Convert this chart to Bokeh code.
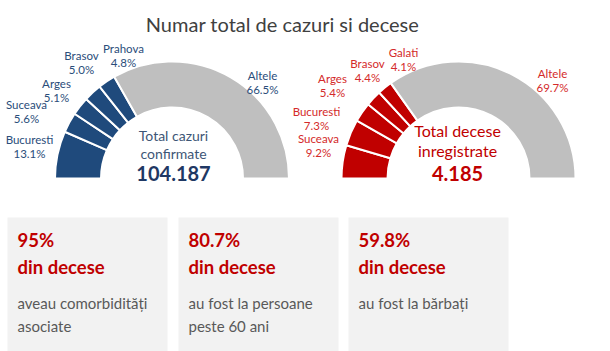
import numpy as np
from bokeh.plotting import figure
from bokeh.models import Range1d
from bokeh.core.properties import value
from bokeh.embed import file_html
from bokeh.resources import INLINE

# ---------------- data ----------------
title = "Numar total de cazuri si decese"

cases_regions = ["Bucuresti", "Suceava", "Arges", "Brasov", "Prahova", "Altele"]
cases_pct = [13.1, 5.6, 5.1, 5.0, 4.8, 66.5]
cases_total_label = ["Total cazuri", "confirmate"]
cases_total = "104.187"

deaths_regions = ["Suceava", "Bucuresti", "Arges", "Brasov", "Galati", "Altele"]
deaths_pct = [9.2, 7.3, 5.4, 4.4, 4.1, 69.7]
deaths_total_label = ["Total decese", "inregistrate"]
deaths_total = "4.185"

stat_values = ["95%", "80.7%", "59.8%"]
stat_heads = ["din decese", "din decese", "din decese"]
stat_texts = [["aveau comorbidități", "asociate"],
              ["au fost la persoane", "peste 60 ani"],
              ["au fost la bărbați"]]

# ---------------- layout ----------------
W, H = 610, 351
BLUE = "#1f4a7c"
RED = "#c00000"
GREY = "#bfbfbf"
FONT = value("Lato")

def Y(y):
    return H - y

p = figure(width=W, height=H, output_backend="svg", toolbar_location=None,
           x_range=Range1d(0, W), y_range=Range1d(0, H),
           x_axis_location=None, y_axis_location=None, min_border=0)
p.grid.visible = False
p.outline_line_color = None
p.background_fill_color = "white"
p.border_fill_color = "white"

# title
p.text(x=[282], y=[Y(23)], text=[title], text_font=FONT, text_font_size="20px",
       text_color="#404040", text_align="center", text_baseline="middle")


def donut(cx, cy, pct, color):
    total = float(sum(pct))
    cum = np.concatenate([[0.0], np.cumsum(pct)])
    start = np.pi - cum[:-1] / total * np.pi
    end = np.pi - cum[1:] / total * np.pi
    colors = [color] * (len(pct) - 1) + [GREY]
    p.annular_wedge(x=cx, y=cy, inner_radius=71, outer_radius=117,
                    start_angle=list(start), end_angle=list(end), direction="clock",
                    fill_color=colors, line_color="white", line_width=2)


def labels(regions, pct, pos, color):
    xs, ys, ts = [], [], []
    for r, v, (lx, ly) in zip(regions, pct, pos):
        xs += [lx, lx]
        ys += [Y(ly), Y(ly + 14)]
        ts += [r, f"{v:.1f}%"]
    p.text(x=xs, y=ys, text=ts, text_font=FONT, text_font_size="11.5px",
           text_color=color, text_align="center", text_baseline="middle")


# left donut
donut(171.5, Y(178), cases_pct, BLUE)
labels(cases_regions, cases_pct,
       [(29, 139), (26, 104), (56, 83), (81, 55), (123, 48), (262, 75)], "#2a4d7a")
p.text(x=[173, 173], y=[Y(135), Y(153)], text=cases_total_label, text_font=FONT,
       text_font_size="14px", text_color="#3d5676", text_align="center", text_baseline="middle")
p.text(x=[173], y=[Y(173)], text=[cases_total], text_font=FONT, text_font_size="20px",
       text_font_style="bold", text_color="#1f3864", text_align="center", text_baseline="middle")

# right donut
donut(458, Y(178), deaths_pct, RED)
labels(deaths_regions, deaths_pct,
       [(318, 138), (316, 111), (332, 78), (367, 63), (403, 52), (552, 73)], "#d42a2a")
p.text(x=[457, 457], y=[Y(130), Y(150)], text=deaths_total_label, text_font=FONT,
       text_font_size="16px", text_color=RED, text_align="center", text_baseline="middle")
p.text(x=[457], y=[Y(173)], text=[deaths_total], text_font=FONT, text_font_size="20px",
       text_font_style="bold", text_color=RED, text_align="center", text_baseline="middle")

# stat boxes
box_left = [7, 178, 348]
p.quad(left=box_left, right=[b + 160 for b in box_left], top=[Y(217)] * 3, bottom=[0] * 3,
       fill_color="#f2f2f2", line_color=None)
for bl, v, hd, lines in zip(box_left, stat_values, stat_heads, stat_texts):
    tx = bl + 10
    p.text(x=[tx, tx], y=[Y(239), Y(266)], text=[v, hd], text_font=FONT,
           text_font_size="18.5px", text_font_style="bold", text_color=RED,
           text_align="left", text_baseline="middle")
    p.text(x=[tx] * len(lines), y=[Y(302), Y(325)][:len(lines)], text=lines, text_font=FONT,
           text_font_size="15px", text_color="#595959", text_align="left", text_baseline="middle")

open("out.html", "w").write(file_html(p, INLINE))
